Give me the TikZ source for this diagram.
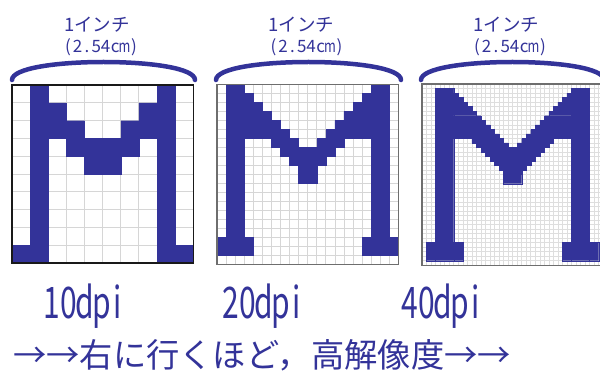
\documentclass[tikz,border=0pt]{standalone}
\usepackage{fontspec}
\usepackage{graphicx}
\setmainfont{Noto Sans CJK JP}
\definecolor{mblue}{RGB}{51,51,153}
\definecolor{glc}{RGB}{214,214,214}
\definecolor{glclight}{RGB}{222,222,222}
\definecolor{bordergray}{RGB}{110,110,110}
\newcommand\dcell[1]{\makebox[16.5pt][c]{#1}}
\newcommand\tcell[1]{\makebox[9.4pt][c]{#1}}
\newcommand\cmtext{\tcell{(}\tcell{2}\tcell{.}\tcell{5}\tcell{4}\tcell{c}\tcell{\scalebox{0.75}[1]{m}}\tcell{)}}
\newcommand\dpitext[1]{\scalebox{1}[1.45]{\dcell{#1}\dcell{0}\dcell{d}\dcell{p}\dcell{i}}}
\begin{document}
\begin{tikzpicture}[x=1pt,y=-1pt,
  gla/.style={glc, line width=1pt},
  glb/.style={glc, line width=0.8pt},
  glcs/.style={glclight, line width=0.5pt},
  pix/.style={fill=mblue, draw=mblue, line width=0.3pt},
  borderA/.style={draw=black!90, line width=1.6pt},
  borderB/.style={draw=bordergray, line width=1.2pt},
  arcline/.style={draw=mblue, line width=4.5pt, line cap=round},
  toplabel/.style={text=mblue, inner sep=0pt, font=\fontsize{17}{17}\selectfont},
  inchlabel/.style={text=mblue, inner sep=0pt, font=\fontsize{18.5}{18.5}\selectfont},
  dpilabel/.style={text=mblue, inner sep=0pt, anchor=base, font=\fontsize{30}{30}\selectfont},
  caption/.style={text=mblue, inner sep=0pt, anchor=base west, font=\fontsize{33.3}{34}\selectfont}]
\fill[white] (0,0) rectangle (600,374);
\useasboundingbox (0,0) rectangle (600,374);

% ---------- grid 1 : 10 dpi ----------
\begin{scope}[shift={(12,85)}, x=18.13pt, y=-17.83pt]
  \foreach \i in {0,...,10} {\draw[gla] (\i,0) -- (\i,10); \draw[gla] (0,\i) -- (10,\i);}
  \path[pix] (1,0) rectangle (2,10) (8,0) rectangle (9,10)
    (0,9) rectangle (2,10) (8,9) rectangle (10,10)
    (2,1) rectangle (3,2) (7,1) rectangle (8,2)
    (2,2) rectangle (4,3) (6,2) rectangle (8,3)
    (3,3) rectangle (7,4) (4,4) rectangle (6,5);
  \draw[borderA] (0,0) rectangle (10,10);
\end{scope}

% ---------- grid 2 : 20 dpi ----------
\begin{scope}[shift={(217,84.5)}, x=9.07pt, y=-9.0pt]
  \foreach \i in {0,...,20} {\draw[glb] (\i,0) -- (\i,20); \draw[glb] (0,\i) -- (20,\i);}
  \path[pix] (1,0) rectangle (3,19) (17,0) rectangle (19,19)
    (0,17) rectangle (4,19) (16,17) rectangle (20,19)
    (6,6) rectangle (9,7) (11,6) rectangle (14,7)
    (7,7) rectangle (13,8) (8,8) rectangle (12,9) (9,9) rectangle (11,11);
  \foreach \r in {1,...,6} {\path[pix] (1,\r-1) rectangle (\r+2,\r) (18-\r,\r-1) rectangle (19,\r);}
  \draw[borderB] (0,0) rectangle (20,20);
\end{scope}

% ---------- grid 3 : 40 dpi ----------
\begin{scope}[shift={(422,84)}, x=4.53pt, y=-4.53pt]
  \foreach \i in {0,...,40} {\draw[glcs] (\i,0) -- (\i,40); \draw[glcs] (0,\i) -- (40,\i);}
  \path[pix] (3,1) rectangle (7,39) (33,1) rectangle (37,39)
    (1,35) rectangle (9,39) (31,35) rectangle (39,39)
    (18,20) rectangle (22,22);
  \foreach \r in {2,...,12} {\path[pix] (3,\r-1) rectangle (\r+5,\r) (35-\r,\r-1) rectangle (37,\r);}
  \foreach \r in {13,14} {\path[pix] (\r-2,\r-1) rectangle (\r+5,\r) (35-\r,\r-1) rectangle (42-\r,\r);}
  \foreach \r in {15,...,20} {\path[pix] (\r-2,\r-1) rectangle (42-\r,\r);}
  \draw[borderB] (0,0) rectangle (40,40);
\end{scope}

% ---------- arcs ----------
\coordinate (a1l) at (12,80);  \coordinate (a1r) at (195,80);
\coordinate (a2l) at (216,80); \coordinate (a2r) at (401,80);
\coordinate (a3l) at (421,80); \coordinate (a3r) at (604,80);
\draw[arcline] (a1l) .. controls (12,56) and (195,56) .. (a1r);
\draw[arcline] (a2l) .. controls (216,56) and (401,56) .. (a2r);
\draw[arcline] (a3l) .. controls (421,56) and (604,56) .. (a3r);

% ---------- labels ----------
\node[inchlabel] (inch1) at (97,24.5) {1インチ};
\node[toplabel] (cm1) at (101,47.5) {\cmtext};
\node[inchlabel] (inch2) at (301.5,24.5) {1インチ};
\node[toplabel] (cm2) at (306.5,47.5) {\cmtext};
\node[inchlabel] (inch3) at (506.5,24.5) {1インチ};
\node[toplabel] (cm3) at (510,47.5) {\cmtext};

\node[dpilabel] (dpi10) at (85,318) {\dpitext{1}};
\node[dpilabel] (dpi20) at (264,318) {\dpitext{2}};
\node[dpilabel] (dpi40) at (443,318) {\dpitext{4}};

\node[caption] (cap) at (13,367) {→→右に行くほど，高解像度→→};
\end{tikzpicture}
\end{document}
